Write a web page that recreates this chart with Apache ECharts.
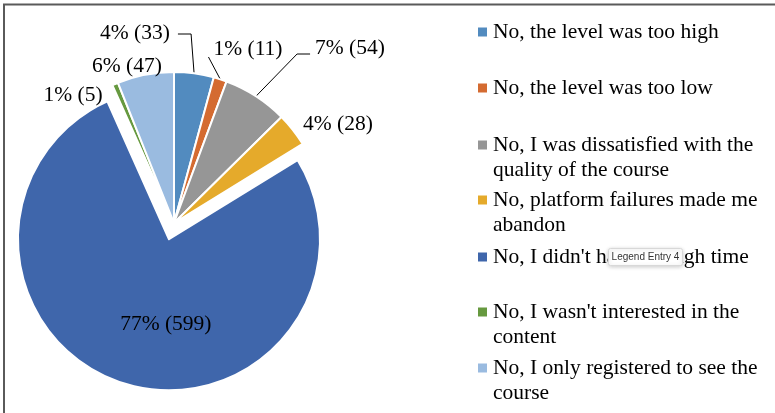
<!DOCTYPE html>
<html>
<head>
<meta charset="utf-8">
<script src="https://cdn.jsdelivr.net/npm/echarts@6/dist/echarts.min.js"></script>
<style>
html,body{margin:0;padding:0;background:#fff;}
#chart{width:775px;height:413px;}
</style>
</head>
<body>
<div id="chart"></div>
<script>
// ---- data ----
var categories = [
  "No, the level was too high",
  "No, the level was too low",
  "No, I was dissatisfied with the quality of the course",
  "No, platform failures made me abandon",
  "No, I didn't have enough time",
  "No, I wasn't interested in the content",
  "No, I only registered to see the course"
];
var legendLabels = [
  "No, the level was too high",
  "No, the level was too low",
  "No, I was dissatisfied with the\nquality of the course",
  "No, platform failures made me\nabandon",
  "No, I didn't have enough time",
  "No, I wasn't interested in the\ncontent",
  "No, I only registered to see the\ncourse"
];
var values = [33, 11, 54, 28, 599, 5, 47];

// ---- styles / layout ----
var colors = ["#528BBF", "#D46B31", "#969696", "#E5AA2B", "#3F66AB", "#66993F", "#9ABBE0"];
var FONT = "Liberation Serif";
var FS = 21.5;
var legendTops = [32, 88, 145, 200, 257, 312, 368]; // first-line centers
var labelPos = [[135, 33], [248, 49], [350, 48], [338, 124], null, [73, 95], [127, 66]];

var chart = echarts.init(document.getElementById('chart'), null, {renderer: 'canvas'});

var legends = categories.map(function (c, i) {
  var two = legendLabels[i].indexOf('\n') >= 0;
  return {
    data: [{name: c, icon: 'rect'}],
    left: 476,
    top: two ? legendTops[i] - 37.5 : legendTops[i] - 12.5,
    orient: 'vertical',
    padding: 0,
    itemWidth: 11,
    itemHeight: 11,
    selectedMode: false,
    formatter: function () { return two ? '\n' + legendLabels[i] : legendLabels[i]; },
    textStyle: {
      fontFamily: FONT, fontSize: FS, color: '#000', lineHeight: 25
    }
  };
});

var data = categories.map(function (c, i) {
  var d = {name: c, value: values[i], itemStyle: {color: colors[i]}};
  if (i === 4) {
    d.selected = true;
    d.label = {position: 'inside', padding: [0, 0, 0, 40], lineHeight: 20, formatter: '\n{d}% ({c})'};
    d.labelLine = {show: false};
  }
  if (i === 3 || i === 5 || i === 6) d.labelLine = {show: false};
  return d;
});

chart.setOption({
  animation: false,
  legend: legends,
  graphic: [
    {type: 'rect', z: 100, shape: {x: 4, y: 4.5, width: 820, height: 460}, style: {fill: 'none', stroke: '#5a5a5a', lineWidth: 2}, silent: true},
    {type: 'group', z: 100, left: 608, top: 248, children: [
      {type: 'rect', z: 100, shape: {x: 0, y: 0, width: 74, height: 17, r: 2}, style: {fill: '#fff', stroke: '#d8d8d8', lineWidth: 1, shadowBlur: 4, shadowColor: 'rgba(0,0,0,0.2)', shadowOffsetY: 1}},
      {type: 'text', z: 101, x: 37, y: 8.5, style: {text: 'Legend Entry 4', font: '10px "Liberation Sans"', fill: '#333', align: 'center', verticalAlign: 'middle'}}
    ]}
  ],
  series: [{
    type: 'pie',
    center: [174, 223],
    radius: 151,
    startAngle: 90,
    clockwise: true,
    percentPrecision: 0,
    selectedMode: 'single',
    selectedOffset: 17,
    avoidLabelOverlap: false,
    itemStyle: {borderColor: '#fff', borderWidth: 2},
    label: {
      formatter: '{d}% ({c})',
      fontFamily: FONT, fontSize: FS, color: '#000'
    },
    labelLine: {show: true, length: 10, length2: 10, lineStyle: {color: '#000', width: 1}},
    emphasis: {disabled: true},
    labelLayout: function (p) {
      var i = p.dataIndex;
      if (!labelPos[i]) return {};
      var x = labelPos[i][0], y = labelPos[i][1];
      var w = p.labelRect.width;
      var out = {x: x, y: y, align: 'center', verticalAlign: 'middle'};
      var a = p.labelLinePoints ? p.labelLinePoints[0] : null;
      if (a) {
        if (i === 0) {
          out.labelLinePoints = [a, [a[0] - 3, y + 1], [x + w / 2 + 8, y + 1]];
        } else if (i === 1) {
          out.labelLinePoints = [a, [x - w / 2 - 5, y + 8]];
        } else if (i === 2) {
          out.labelLinePoints = [a, [x - w / 2 - 18, y + 6], [x - w / 2 - 5, y + 6]];
        }
      }
      return out;
    },
    data: data
  }]
});
</script>
</body>
</html>
